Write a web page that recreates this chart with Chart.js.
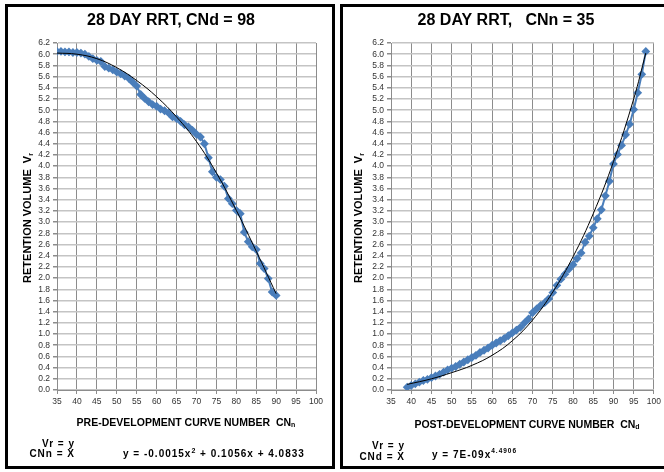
<!DOCTYPE html>
<html>
<head>
<meta charset="utf-8">
<script src="https://cdn.jsdelivr.net/npm/chart.js@4.4.0/dist/chart.umd.min.js"></script>
<style>
  body { margin: 0; background: #fff; width: 664px; height: 472px; overflow: hidden; position: relative; }
  .caixa { position: absolute; border: 3px solid #000; background: #fff; }
  #caixa1 { left: 5px; top: 4px; width: 324px; height: 459px; }
  #caixa2 { left: 340px; top: 4px; width: 321px; height: 459px; }
  canvas { display: block; }
</style>
</head>
<body>
<div class="caixa" id="caixa1"><canvas id="grafico1" width="324" height="459"></canvas></div>
<div class="caixa" id="caixa2"><canvas id="grafico2" width="321" height="459"></canvas></div>
<script>
const FONTE = '"Liberation Sans", Arial, sans-serif';

// eixo X comum
const xTicks = [35, 40, 45, 50, 55, 60, 65, 70, 75, 80, 85, 90, 95, 100];

// pré-desenvolvimento (CNd = 98)
const cnPre = [35, 36, 37, 38, 39, 40, 41, 42, 43, 44, 45, 46, 47, 48, 49, 50, 51, 52, 53, 54,
  55, 56, 57, 58, 59, 60, 61, 62, 63, 64, 65, 66, 67, 68, 69, 70, 71, 72, 73, 74,
  75, 76, 77, 78, 79, 80, 81, 82, 83, 84, 85, 86, 87, 88, 89, 90];
const vrPre = [6.05, 6.05, 6.04, 6.04, 6.03, 6.03, 6.02, 6.00, 5.96, 5.92, 5.89, 5.87, 5.78, 5.75, 5.72, 5.68, 5.65, 5.61, 5.57, 5.50,
  5.43, 5.28, 5.21, 5.15, 5.10, 5.07, 5.02, 4.99, 4.95, 4.88, 4.85, 4.80, 4.74, 4.70, 4.64, 4.57, 4.52, 4.40, 4.15, 3.90,
  3.80, 3.76, 3.64, 3.42, 3.33, 3.21, 3.15, 2.82, 2.65, 2.56, 2.51, 2.26, 2.17, 1.99, 1.75, 1.69];
// linha de tendência
const cnPreFit = [35, 40, 45, 50, 55, 60, 65, 70, 75, 80, 85, 90];
const vrPreFit = [6.02, 6.00, 5.92, 5.76, 5.53, 5.24, 4.88, 4.44, 3.88, 3.21, 2.48, 1.72];

// pós-desenvolvimento (CNn = 35)
const cnPost = [39, 40, 41, 42, 43, 44, 45, 46, 47, 48, 49, 50, 51, 52, 53, 54, 55, 56, 57, 58,
  59, 60, 61, 62, 63, 64, 65, 66, 67, 68, 69, 70, 71, 72, 73, 74, 75, 76, 77, 78,
  79, 80, 81, 82, 83, 84, 85, 86, 87, 88, 89, 90, 91, 92, 93, 94, 95, 96, 97, 98];
const vrPost = [0.05, 0.08, 0.11, 0.14, 0.17, 0.19, 0.22, 0.25, 0.28, 0.32, 0.36, 0.39, 0.42, 0.46, 0.50, 0.54, 0.58, 0.62, 0.67, 0.71,
  0.75, 0.80, 0.84, 0.88, 0.92, 0.97, 1.02, 1.07, 1.12, 1.20, 1.27, 1.38, 1.45, 1.51, 1.56, 1.63, 1.74, 1.87, 1.98, 2.07,
  2.16, 2.24, 2.35, 2.45, 2.64, 2.75, 2.90, 3.06, 3.22, 3.47, 3.73, 4.04, 4.21, 4.37, 4.56, 4.75, 5.01, 5.31, 5.64, 6.05];
const cnPostFit = [39, 45, 50, 55, 60, 65, 70, 75, 80, 85, 90, 95, 98];
const vrPostFit = [0.10, 0.20, 0.31, 0.44, 0.62, 0.88, 1.25, 1.75, 2.38, 3.15, 4.08, 5.20, 6.02];

function pares(xs, ys) {
  return xs.map((x, i) => ({ x: x, y: ys[i] }));
}

// escreve texto com partes de tamanhos diferentes (índices / expoentes)
function escreve(ctx, partes, x, y, alinhar, espaco) {
  ctx.letterSpacing = (espaco || 0) + 'px';
  let largura = 0;
  partes.forEach(p => {
    ctx.font = `bold ${p[1]}px ${FONTE}`;
    largura += ctx.measureText(p[0]).width;
  });
  let inicio = x;
  if (alinhar === 'center') inicio = x - largura / 2;
  if (alinhar === 'right') inicio = x - largura;
  ctx.textAlign = 'left';
  ctx.textBaseline = 'middle';
  partes.forEach(p => {
    ctx.font = `bold ${p[1]}px ${FONTE}`;
    ctx.fillText(p[0], inicio, y + (p[2] || 0));
    inicio += ctx.measureText(p[0]).width;
  });
  ctx.letterSpacing = '0px';
}

const textos = {
  id: 'textos',
  afterDraw(chart, args, o) {
    const ctx = chart.ctx;
    ctx.save();
    ctx.fillStyle = '#000';
    escreve(ctx, [[o.titulo, 16]], o.tituloX, 14, 'center');
    escreve(ctx, o.eixoX, o.eixoXx, o.eixoXy, 'center');
    ctx.save();
    ctx.translate(o.eixoYx, 211);
    ctx.rotate(-Math.PI / 2);
    escreve(ctx, [['RETENTION VOLUME  V', 11], ['r', 7, 3]], 0, 0, 'center');
    ctx.restore();
    o.rodape.forEach(r => escreve(ctx, r.partes, r.x, r.y, r.alinhar, 1));
    ctx.restore();
  }
};

function criarGrafico(id, serie, tendencia, extra, margens) {
  const ctx = document.getElementById(id).getContext('2d');
  return new Chart(ctx, {
    type: 'scatter',
    data: {
      datasets: [
        {
          label: 'tendencia',
          data: tendencia,
          showLine: true,
          borderColor: '#000',
          borderWidth: 1,
          pointRadius: 0,
          tension: 0.4,
          order: 0,
        },
        {
          label: 'Vr',
          data: serie,
          showLine: true,
          borderColor: '#4a7ebb',
          backgroundColor: '#4a7ebb',
          borderWidth: 2,
          pointStyle: 'rectRot',
          pointRadius: 3,
          order: 1,
        },
      ],
    },
    options: {
      responsive: false,
      animation: false,
      layout: { padding: { left: 0, top: 36, right: margens.direita, bottom: 0 } },
      plugins: {
        legend: { display: false },
        tooltip: { enabled: false },
        textos: extra,
      },
      scales: {
        x: {
          type: 'linear',
          min: 35,
          max: 100,
          afterBuildTicks: (s) => { s.ticks = xTicks.map(v => ({ value: v })); },
          afterFit: (s) => { s.height = 76; },
          ticks: { color: '#333', font: { family: FONTE, size: 8.5 }, padding: 3, maxRotation: 0, autoSkip: false },
          grid: { color: '#8c8c8c', lineWidth: 1, tickLength: 4, tickColor: '#8c8c8c' },
          border: { color: '#8c8c8c' },
        },
        y: {
          min: 0,
          max: 6.2,
          afterFit: (s) => { s.width = margens.esquerda; },
          ticks: { stepSize: 0.2, autoSkip: false, color: '#333', font: { family: FONTE, size: 8.5 }, padding: 3,
            callback: (v) => v.toFixed(1) },
          grid: { color: '#c4c4c4', lineWidth: 1.5, tickLength: 4, tickColor: '#8c8c8c' },
          border: { color: '#8c8c8c' },
        },
      },
    },
    plugins: [textos],
  });
}

criarGrafico('grafico1', pares(cnPre, vrPre), pares(cnPreFit, vrPreFit), {
  titulo: '28 DAY RRT, CNd = 98',
  tituloX: 163,
  eixoX: [['PRE-DEVELOPMENT CURVE NUMBER  CN', 10.5], ['n', 7, 2]],
  eixoXx: 178, eixoXy: 416,
  eixoYx: 20,
  rodape: [
    { partes: [['Vr = y', 10]], x: 67, y: 437, alinhar: 'right' },
    { partes: [['CNn = X', 10]], x: 67, y: 447, alinhar: 'right' },
    { partes: [['y = -0.0015x', 10], ['2', 7, -3], [' + 0.1056x + 4.0833', 10]], x: 115, y: 447, alinhar: 'left' },
  ],
}, { esquerda: 49, direita: 16 });

criarGrafico('grafico2', pares(cnPost, vrPost), pares(cnPostFit, vrPostFit), {
  titulo: '28 DAY RRT,   CNn = 35',
  tituloX: 163,
  eixoX: [['POST-DEVELOPMENT CURVE NUMBER  CN', 10.5], ['d', 7, 2]],
  eixoXx: 184, eixoXy: 418,
  eixoYx: 16,
  rodape: [
    { partes: [['Vr = y', 10]], x: 62, y: 439, alinhar: 'right' },
    { partes: [['CNd = X', 10]], x: 62, y: 450, alinhar: 'right' },
    { partes: [['y = 7E-09x', 10], ['4.4906', 6.5, -4]], x: 89, y: 448, alinhar: 'left' },
  ],
}, { esquerda: 48, direita: 9 });
</script>
</body>
</html>
